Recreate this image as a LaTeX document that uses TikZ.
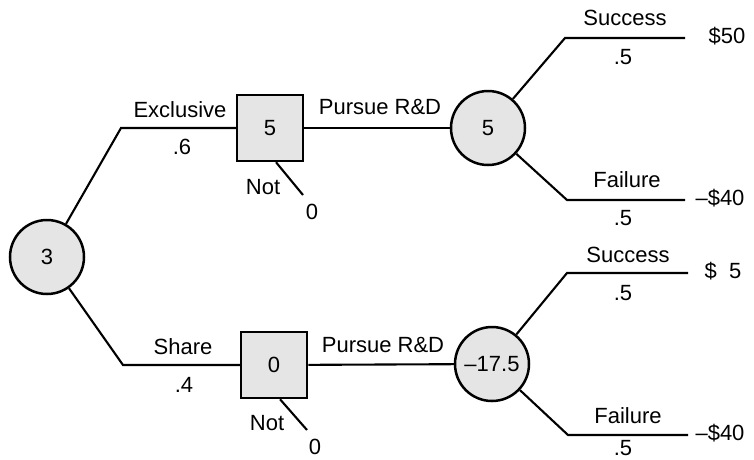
\documentclass[tikz,border=0pt]{standalone}
\usepackage{fontspec}
\setmainfont{Liberation Sans}
\begin{document}
\begin{tikzpicture}[x=1pt,y=-1pt,
  every node/.style={font=\fontsize{22}{26}\selectfont, inner sep=0pt},
  chance/.style={circle, draw, line width=2.5pt, fill=black!10, minimum size=74pt},
  decision/.style={rectangle, draw, line width=2.5pt, fill=black!10, minimum size=66pt},
  branch/.style={line width=2.1pt}]
\useasboundingbox (0,0) rectangle (754,459);
% nodes
\node[chance] (root) at (47,257) {3};
\node[decision] (d1) at (270,128) {5};
\node[decision] (d2) at (274,365) {0};
\node[chance] (c1) at (488,128) {5};
\node[chance] (c2) at (492,364) {\textendash17.5};
% coordinates
\coordinate (a1) at (121,128);
\coordinate (a2) at (123,365);
\coordinate (s1) at (565,38);  \coordinate (e1) at (685,38);
\coordinate (f1) at (567,200); \coordinate (g1) at (685,200);
\coordinate (s2) at (567,273); \coordinate (e2) at (688,273);
\coordinate (f2) at (568,435); \coordinate (g2) at (688,435);
\coordinate (n1) at (303,195);
\coordinate (n2) at (307,430);
% connectors
\draw[branch] (root) -- (a1) -- (d1);
\draw[branch] (root) -- (a2) -- (d2);
\draw[branch] (d1) -- (c1);
\draw[branch] (d2) -- (c2);
\draw[branch] (d1.-80) -- (n1);
\draw[branch] (d2.-80) -- (n2);
\draw[branch] (c1) -- (s1) -- (e1);
\draw[branch] (c1) -- (f1) -- (g1);
\draw[branch] (c2) -- (s2) -- (e2);
\draw[branch] (c2) -- (f2) -- (g2);
% labels
\node (l1) at (180,110) {Exclusive};
\node (l2) at (182,147) {.6};
\node (l3) at (263,187) {Not};
\node (l4) at (312,212) {0};
\node (l5) at (183,347) {Share};
\node (l6) at (184,385) {.4};
\node (l7) at (267,423) {Not};
\node (l8) at (315,447) {0};
\node (l9) at (380,107) {Pursue R\&D};
\node (l10) at (383,345) {Pursue R\&D};
\node (l11) at (625,18) {Success};
\node (l12) at (623,57) {.5};
\node (l13) at (727,36) {\$50};
\node (l14) at (627,180) {Failure};
\node (l15) at (623,218) {.5};
\node (l16) at (720,198) {\textendash\$40};
\node (l17) at (628,255) {Success};
\node (l18) at (623,293) {.5};
\node (l19) at (723,271) {\$\ \ 5};
\node (l20) at (628,416) {Failure};
\node (l21) at (623,448) {.5};
\node (l22) at (720,433) {\textendash\$40};
\end{tikzpicture}
\end{document}
